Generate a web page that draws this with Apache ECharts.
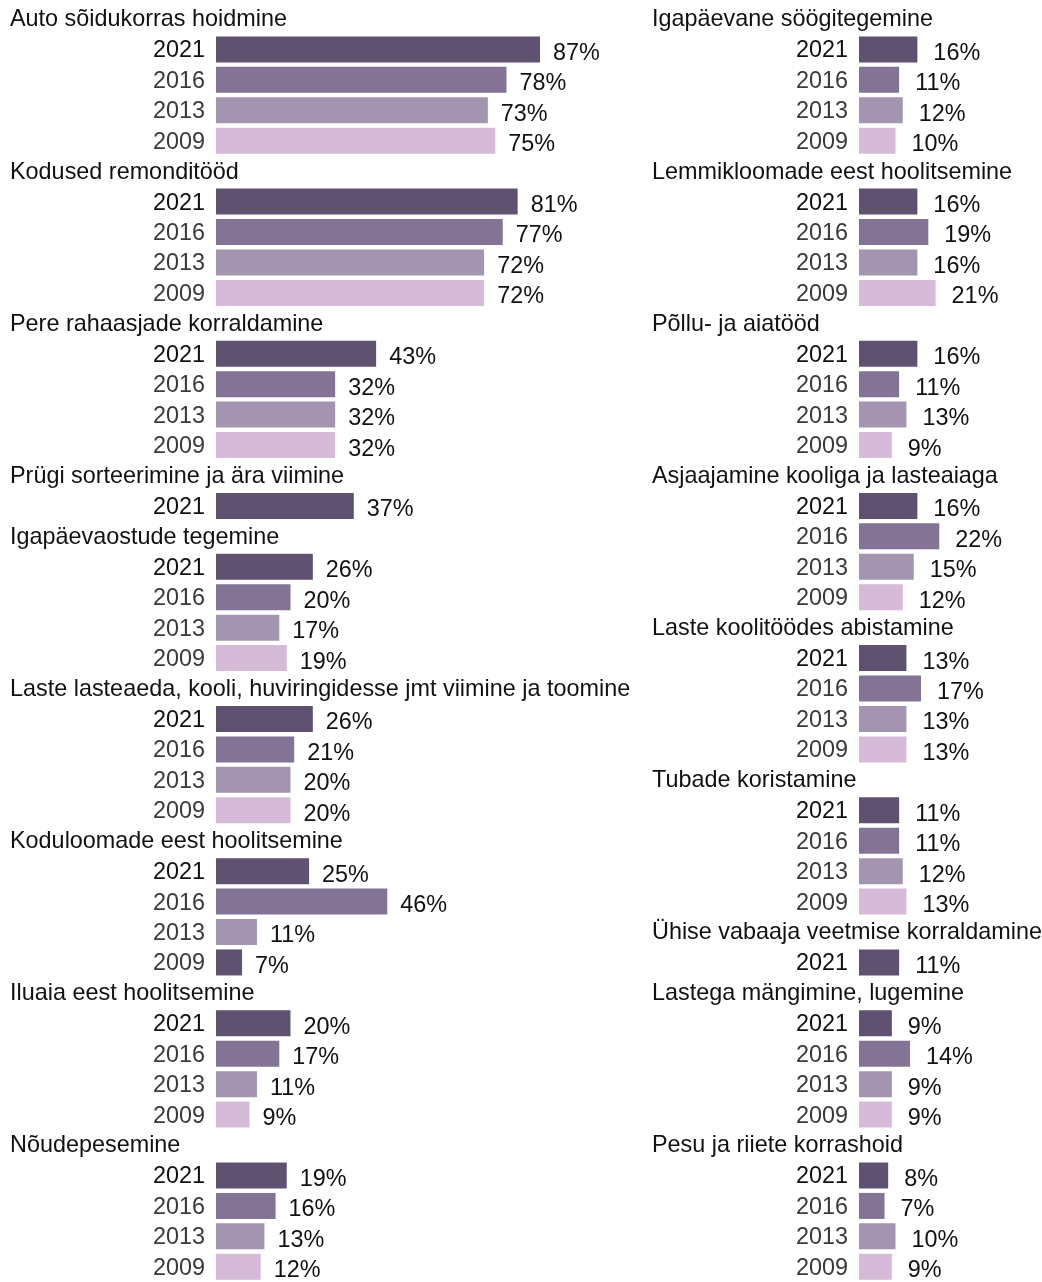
<!DOCTYPE html>
<html>
<head>
<meta charset="utf-8">
<script src="https://cdn.jsdelivr.net/npm/echarts@6/dist/echarts.min.js"></script>
<style>
  html, body { margin: 0; padding: 0; background: #fff; }
  #chart { width: 1042px; height: 1282px; }
</style>
</head>
<body>
<div id="chart"></div>
<script>
const years = ['2021', '2016', '2013', '2009']
const yearColors = ['#5f5170', '#837496', '#a394b0', '#d6bbd8']

const leftTitles = [
  'Auto sõidukorras hoidmine',
  'Kodused remonditööd',
  'Pere rahaasjade korraldamine',
  'Prügi sorteerimine ja ära viimine',
  'Igapäevaostude tegemine',
  'Laste lasteaeda, kooli, huviringidesse jmt viimine ja toomine',
  'Koduloomade eest hoolitsemine',
  'Iluaia eest hoolitsemine',
  'Nõudepesemine'
]
const leftValues = [
  [87, 78, 73, 75],
  [81, 77, 72, 72],
  [43, 32, 32, 32],
  [37],
  [26, 20, 17, 19],
  [26, 21, 20, 20],
  [25, 46, 11, 7],
  [20, 17, 11, 9],
  [19, 16, 13, 12]
]

const rightTitles = [
  'Igapäevane söögitegemine',
  'Lemmikloomade eest hoolitsemine',
  'Põllu- ja aiatööd',
  'Asjaajamine kooliga ja lasteaiaga',
  'Laste koolitöödes abistamine',
  'Tubade koristamine',
  'Ühise vabaaja veetmise korraldamine',
  'Lastega mängimine, lugemine',
  'Pesu ja riiete korrashoid'
]
const rightValues = [
  [16, 11, 12, 10],
  [16, 19, 16, 21],
  [16, 11, 13, 9],
  [16, 22, 15, 12],
  [13, 17, 13, 13],
  [11, 11, 12, 13],
  [11],
  [9, 14, 9, 9],
  [8, 7, 10, 9]
]

// in the original the 2009 bar of "Koduloomade eest hoolitsemine" uses the 2021 colour
const oddColoured = ['Koduloomade eest hoolitsemine|2009']

const FONT = 'Liberation Sans, Arial, sans-serif'
const FS = 23.4
const ROW_H = 30.5
const FIRST_ROW_Y = 19

function buildRows(titles, values) {
  const rows = []
  titles.forEach((t, g) => {
    rows.push({ label: t, title: true })
    values[g].forEach((v, k) => {
      let color = yearColors[k]
      if (oddColoured.includes(t + '|' + years[k])) color = yearColors[0]
      rows.push({ label: years[k], value: v, color })
    })
  })
  return rows
}

const leftRows = buildRows(leftTitles, leftValues)
const rightRows = buildRows(rightTitles, rightValues)

function makeGrid(left, width, nRows) {
  return {
    left: left,
    width: width,
    top: FIRST_ROW_Y - ROW_H / 2,
    height: ROW_H * nRows
  }
}

function makeYAxis(idx, rows, margin) {
  return {
    type: 'category',
    gridIndex: idx,
    inverse: true,
    data: rows.map((r, i) => i + '|' + r.label),
    axisLine: { show: false },
    axisTick: { show: false },
    splitLine: { show: false },
    axisLabel: {
      interval: 0,
      align: 'left',
      margin: margin,
      fontFamily: FONT,
      fontSize: FS,
      formatter: (val) => {
        const i = +val.split('|')[0]
        const r = rows[i]
        if (r.title) return '{t|' + r.label + '}'
        return (r.label === '2021' ? '{ya|' : '{yb|') + r.label + '}'
      },
      rich: {
        t: { fontFamily: FONT, fontSize: FS, color: '#111', padding: [2, 0, 0, 0] },
        ya: { fontFamily: FONT, fontSize: FS, color: '#111', width: margin - 11, align: 'right', padding: [3, 0, 0, 0] },
        yb: { fontFamily: FONT, fontSize: FS, color: '#3a3a3a', width: margin - 11, align: 'right', padding: [3, 0, 0, 0] }
      }
    }
  }
}

function makeXAxis(idx, max) {
  return {
    type: 'value',
    gridIndex: idx,
    min: 0,
    max: max,
    show: false
  }
}

function makeSeries(idx, rows, dist) {
  return {
    type: 'bar',
    xAxisIndex: idx,
    yAxisIndex: idx,
    barWidth: 26,
    silent: true,
    data: rows.map((r) => r.title ? '-' : { value: r.value, itemStyle: { color: r.color } }),
    label: {
      show: true,
      position: 'right',
      distance: dist,
      offset: [0, 4],
      fontFamily: FONT,
      fontSize: FS,
      color: '#111',
      formatter: '{c}%'
    }
  }
}

const PX_PER_PCT = 3.724
const chart = echarts.init(document.getElementById('chart'), null, { renderer: 'canvas' })
chart.setOption({
  animation: false,
  backgroundColor: '#fff',
  grid: [
    makeGrid(216, PX_PER_PCT * 100, leftRows.length),
    makeGrid(859, PX_PER_PCT * 40, rightRows.length)
  ],
  xAxis: [makeXAxis(0, 100), makeXAxis(1, 40)],
  yAxis: [makeYAxis(0, leftRows, 206), makeYAxis(1, rightRows, 207)],
  series: [makeSeries(0, leftRows, 13), makeSeries(1, rightRows, 16)]
})
</script>
</body>
</html>
